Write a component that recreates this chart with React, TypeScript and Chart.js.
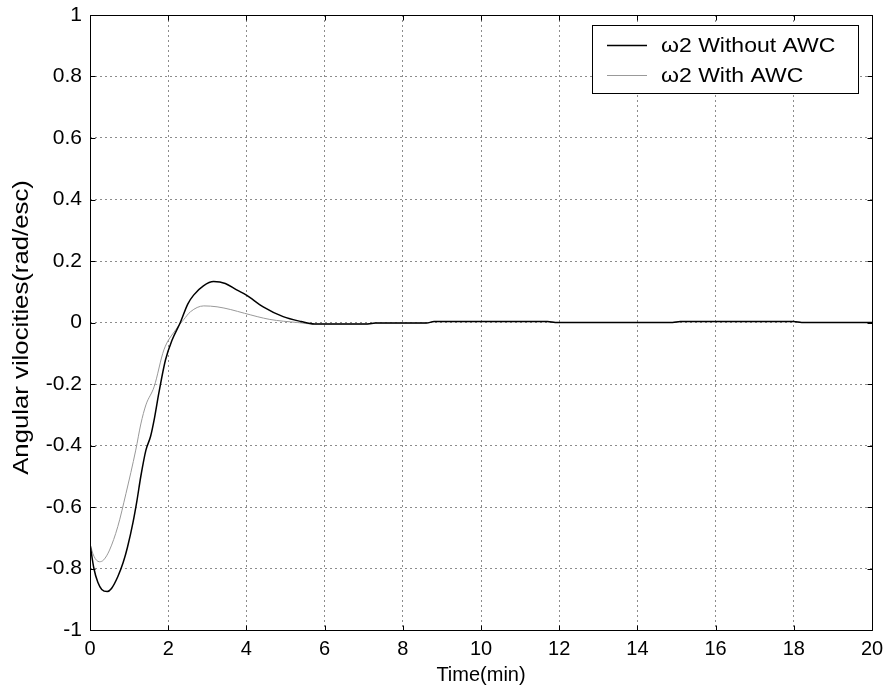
import React, { useEffect, useRef } from "react";
import { Chart, registerables } from "chart.js";

Chart.register(...registerables);

const seriesLabels = ["\u03c92 Without AWC", "\u03c92 With AWC"];
const xTitle = "Time(min)";
const yTitle = "Angular vilocities(rad/esc)";

const timeWithout = [0, 0.1, 0.2, 0.3, 0.44, 0.55, 0.71, 0.85, 0.96, 1.1, 1.2, 1.3, 1.43, 1.55, 1.65, 1.76, 1.93, 2.1, 2.31, 2.5, 2.65, 2.9, 3.16, 3.46, 3.75, 4.0, 4.43, 4.94, 5.4, 5.74, 7.1, 7.3, 8.6, 8.8, 11.7, 11.9, 14.9, 15.1, 18.0, 18.2, 20];
const omegaWithout = [-0.72, -0.8, -0.845, -0.868, -0.875, -0.865, -0.827, -0.78, -0.73, -0.65, -0.58, -0.5, -0.415, -0.37, -0.31, -0.23, -0.122, -0.057, 0.0, 0.06, 0.089, 0.119, 0.133, 0.127, 0.106, 0.089, 0.051, 0.019, 0.003, -0.005, -0.005, -0.002, -0.002, 0.003, 0.003, 0.0, 0.0, 0.003, 0.003, 0.0, 0.0];

const timeWith = [0, 0.1, 0.24, 0.35, 0.5, 0.71, 0.92, 1.17, 1.3, 1.43, 1.64, 1.89, 2.19, 2.4, 2.57, 2.91, 3.25, 3.6, 3.95, 4.6, 5.3, 5.74, 7.1, 7.3, 8.6, 8.8, 11.7, 11.9, 14.9, 15.1, 18.0, 18.2, 20];
const omegaWith = [-0.72, -0.76, -0.778, -0.772, -0.74, -0.664, -0.556, -0.415, -0.33, -0.268, -0.209, -0.089, -0.024, 0.01, 0.035, 0.054, 0.051, 0.042, 0.03, 0.01, 0.0, -0.005, -0.005, -0.002, -0.002, 0.003, 0.003, 0.0, 0.0, 0.003, 0.003, 0.0, 0.0];

const xTicks = [0, 2, 4, 6, 8, 10, 12, 14, 16, 18, 20];
const yTicks = [-1, -0.8, -0.6, -0.4, -0.2, 0, 0.2, 0.4, 0.6, 0.8, 1];

const FONT = "'Liberation Sans', Arial, Helvetica, sans-serif";

const boxPlugin = {
  id: "matlabBox",
  afterDraw(chart: any) {
    const { ctx, chartArea: a, scales } = chart;
    ctx.save();
    ctx.strokeStyle = "#000";
    ctx.lineWidth = 1;
    ctx.beginPath();
    const L = Math.round(a.left) + 0.5;
    const R = Math.round(a.right) + 0.5;
    const T = Math.round(a.top) + 0.5;
    const B = Math.round(a.bottom) + 0.5;
    ctx.rect(L, T, R - L, B - T);
    const tl = 5;
    xTicks.forEach((v) => {
      const px = Math.round(scales.x.getPixelForValue(v)) + 0.5;
      ctx.moveTo(px, B);
      ctx.lineTo(px, B - tl);
      ctx.moveTo(px, T);
      ctx.lineTo(px, T + tl);
    });
    yTicks.forEach((v) => {
      const py = Math.round(scales.y.getPixelForValue(v)) + 0.5;
      ctx.moveTo(L, py);
      ctx.lineTo(L + tl, py);
      ctx.moveTo(R, py);
      ctx.lineTo(R - tl, py);
    });
    ctx.stroke();

    // y axis title
    ctx.save();
    ctx.translate(22, (a.top + a.bottom) / 2 + 5);
    ctx.rotate(-Math.PI / 2);
    ctx.scale(1.17, 1);
    ctx.font = `22px ${FONT}`;
    ctx.fillStyle = "#000";
    ctx.textAlign = "center";
    ctx.textBaseline = "middle";
    ctx.fillText(yTitle, 0, 0);
    ctx.restore();

    // legend box
    const bx = 592.5, by = 25.5, bw = 266, bh = 68;
    ctx.fillStyle = "#fff";
    ctx.fillRect(bx, by, bw, bh);
    ctx.strokeRect(bx, by, bw, bh);
    const rows = [45, 75];
    chart.data.datasets.forEach((ds: any, i: number) => {
      ctx.strokeStyle = ds.borderColor;
      ctx.lineWidth = ds.borderWidth;
      ctx.beginPath();
      ctx.moveTo(607, rows[i] + 0.5);
      ctx.lineTo(647, rows[i] + 0.5);
      ctx.stroke();
      ctx.save();
      ctx.translate(661, rows[i] + 1);
      ctx.scale(1.15, 1);
      ctx.font = `20px ${FONT}`;
      ctx.textBaseline = "middle";
      ctx.textAlign = "left";
      ctx.fillStyle = "#000";
      ctx.fillText(ds.label, 0, 0);
      ctx.restore();
    });
    ctx.restore();
  },
};

export default function App() {
  const ref = useRef<HTMLCanvasElement>(null);
  useEffect(() => {
    if (!ref.current) return;
    const chart = new Chart(ref.current, {
      type: "line",
      data: {
        datasets: [
          {
            label: seriesLabels[0],
            data: timeWithout.map((t, i) => ({ x: t, y: omegaWithout[i] })),
            borderColor: "#000",
            borderWidth: 1.5,
            pointRadius: 0,
            cubicInterpolationMode: "monotone",
            fill: false,
          },
          {
            label: seriesLabels[1],
            data: timeWith.map((t, i) => ({ x: t, y: omegaWith[i] })),
            borderColor: "#999999",
            borderWidth: 1,
            pointRadius: 0,
            cubicInterpolationMode: "monotone",
            fill: false,
          },
        ],
      },
      options: {
        animation: false,
        responsive: false,
        maintainAspectRatio: false,
        layout: { padding: { top: 15, right: 16, left: 0, bottom: 0 } },
        plugins: { legend: { display: false }, tooltip: { enabled: false } },
        scales: {
          x: {
            type: "linear",
            min: 0,
            max: 20,
            afterBuildTicks: (s: any) => {
              s.ticks = xTicks.map((v) => ({ value: v }));
            },
            afterFit: (s: any) => {
              s.height = 68;
              s.paddingLeft = 0;
              s.paddingRight = 0;
            },
            ticks: {
              color: "#000",
              font: { family: FONT, size: 20 },
              padding: 7,
              maxRotation: 0,
              autoSkip: false,
            },
            grid: {
              color: "#8c8c8c",
              lineWidth: 1,
              drawTicks: false,
              tickLength: 0,
            },
            border: { display: false, dash: [2, 3] },
            title: {
              display: true,
              text: xTitle,
              color: "#000",
              font: { family: FONT, size: 20 },
              padding: { top: 0, bottom: 11 },
            },
          },
          y: {
            type: "linear",
            min: -1,
            max: 1,
            afterBuildTicks: (s: any) => {
              s.ticks = yTicks.map((v) => ({ value: v }));
            },
            afterFit: (s: any) => {
              s.width = 90;
              s.paddingTop = 0;
              s.paddingBottom = 0;
            },
            ticks: {
              color: "#000",
              font: { family: FONT, size: 21 },
              padding: 8,
              autoSkip: false,
              callback: (v: any) => {
                const n = Number(Number(v).toFixed(1));
                return n === 0 ? "0" : String(n);
              },
            },
            grid: {
              color: "#8c8c8c",
              lineWidth: 1,
              drawTicks: false,
              tickLength: 0,
            },
            border: { display: false, dash: [2, 3] },
            title: { display: false },
          },
        },
      },
      plugins: [boxPlugin],
    } as any);
    return () => chart.destroy();
  }, []);
  return (
    <div style={{ position: "absolute", left: 0, top: 0, width: 888, height: 698, background: "#fff" }}>
      <canvas ref={ref} width={888} height={698} style={{ width: 888, height: 698 }} />
    </div>
  );
}
